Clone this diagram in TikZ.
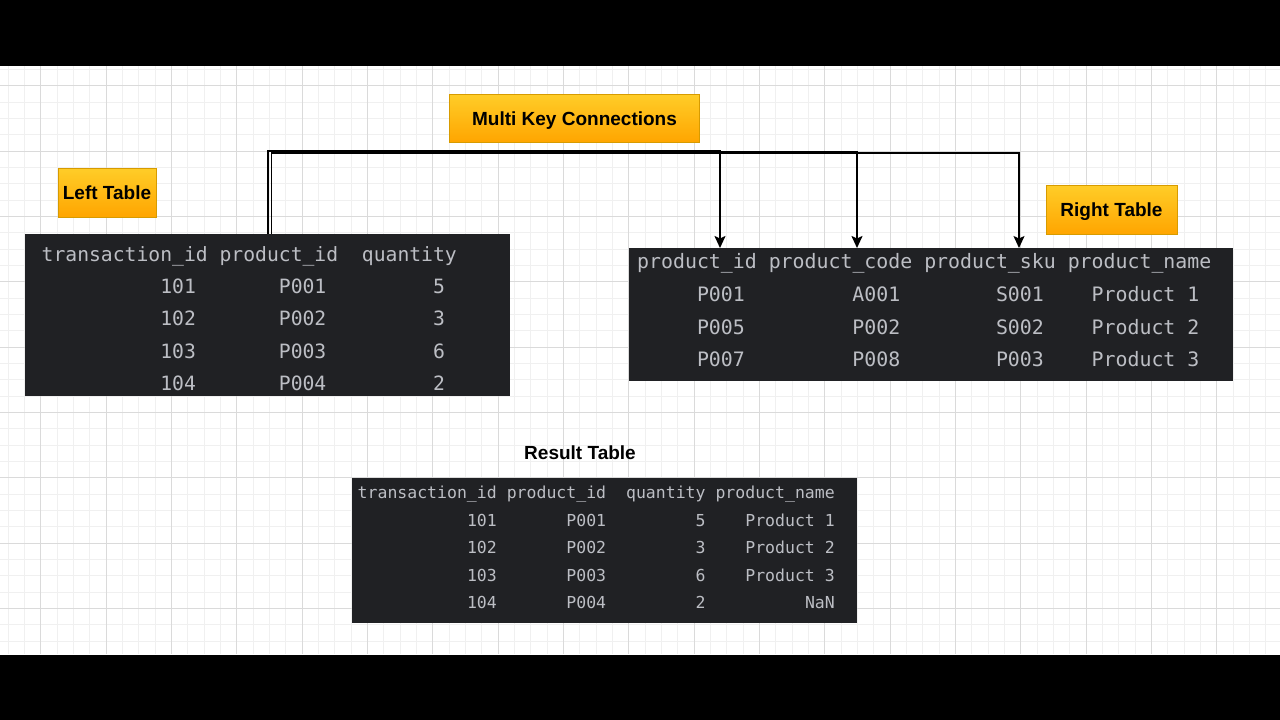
\documentclass[tikz,border=0pt]{standalone}
\usepackage{fontspec}
\setmainfont{Liberation Sans}
\newfontfamily\codefont{DejaVu Sans Mono}
\usetikzlibrary{arrows.meta}
\definecolor{gridminor}{HTML}{F0F0F0}
\definecolor{gridmajor}{HTML}{DADADA}
\definecolor{tabbg}{HTML}{202124}
\definecolor{tabfg}{HTML}{BCBEC4}
\definecolor{orangetop}{HTML}{FFCD28}
\definecolor{orangebot}{HTML}{FFA500}
\definecolor{orangeline}{HTML}{D79B00}
\begin{document}
\begin{tikzpicture}[x=1pt,y=-1pt,
  minorline/.style={draw=gridminor, line width=1pt},
  majorline/.style={draw=gridmajor, line width=1pt},
  tag/.style={draw=orangeline, line width=1pt, top color=orangetop, bottom color=orangebot,
    font=\bfseries\fontsize{19}{22}\selectfont, text height=13.6pt, text depth=0pt, inner sep=0pt},
  title/.style={font=\bfseries\fontsize{19}{22}\selectfont, text height=13.6pt, text depth=0pt, inner sep=0pt},
  tablebox/.style={fill=tabbg, draw=none, anchor=north west, inner sep=0pt},
  lcell/.style={anchor=base west, inner sep=0pt, text=tabfg, font=\codefont\fontsize{19.7}{22}\selectfont},
  rcell/.style={anchor=base west, inner sep=0pt, text=tabfg, font=\codefont\fontsize{19.87}{22}\selectfont},
  scell/.style={anchor=base west, inner sep=0pt, text=tabfg, font=\codefont\fontsize{16.5}{19}\selectfont},
  conn/.style={draw=black, line width=1.8pt, -{Stealth[length=12pt,width=11pt,inset=2.5pt]}}
]
\useasboundingbox (0,0) rectangle (1280,720);
\fill[white] (0,0) rectangle (1280,720);
% grid
\foreach \i in {0,...,78} \draw[minorline] ({8.04+\i*16.333},66) -- ({8.04+\i*16.333},654);
\foreach \i in {0,...,35} \draw[minorline] (0,{69.37+\i*16.333}) -- (1280,{69.37+\i*16.333});
\foreach \i in {0,...,18} \draw[majorline] ({40.7+\i*65.333},66) -- ({40.7+\i*65.333},654);
\foreach \i in {0,...,8} \draw[majorline] (0,{85.7+\i*65.333}) -- (1280,{85.7+\i*65.333});
% black bars
\fill[black] (0,0) rectangle (1280,65.5);
\fill[black] (0,654.5) rectangle (1280,720);

% labels
\node[tag, minimum width=250pt, minimum height=48.5pt] (multi) at (574.5,118.3) {Multi Key Connections};
\node[tag, minimum width=98pt, minimum height=49pt] (lefttag) at (107,192.5) {Left Table};
\node[tag, minimum width=131pt, minimum height=49pt] (righttag) at (1111.5,209.5) {Right Table};
\node[title] (restitle) at (580,453) {Result Table};

% tables
\node[tablebox, minimum width=484.5pt, minimum height=161.5pt] (LT) at (25,234) {};
\node[tablebox, minimum width=604pt, minimum height=133pt] (RT) at (629,248) {};
\node[tablebox, minimum width=505pt, minimum height=145pt] (RES) at (352,478) {};

% left table cells
\def\lx{41.5}\def\lw{11.86}
\foreach \c/\t [count=\i] in {0/transaction\_id,15/product\_id,27/quantity}
  \node[lcell] (L-h-\i) at ({\lx+\c*\lw},261) {\t};
\foreach \y/\a/\b/\c [count=\r] in {293.5/101/P001/5, 325.8/102/P002/3, 358.2/103/P003/6, 390.6/104/P004/2}{
  \node[lcell] (L-\r-1) at ({\lx+10*\lw},\y) {\a};
  \node[lcell] (L-\r-2) at ({\lx+20*\lw},\y) {\b};
  \node[lcell] (L-\r-3) at ({\lx+33*\lw},\y) {\c};
}

% right table cells
\def\rx{637}\def\rw{11.96}
\foreach \c/\t [count=\i] in {0/product\_id,11/product\_code,24/product\_sku,36/product\_name}
  \node[rcell] (R-h-\i) at ({\rx+\c*\rw},268.5) {\t};
\foreach \y/\a/\b/\c/\d [count=\r] in {301.5/P001/A001/S001/Product 1, 334/P005/P002/S002/Product 2, 366.5/P007/P008/P003/Product 3}{
  \node[rcell] (R-\r-1) at ({\rx+5*\rw},\y) {\a};
  \node[rcell] (R-\r-2) at ({\rx+18*\rw},\y) {\b};
  \node[rcell] (R-\r-3) at ({\rx+30*\rw},\y) {\c};
  \node[rcell] (R-\r-4) at ({\rx+38*\rw},\y) {\d};
}

% result table cells
\def\sx{357.5}\def\sw{9.94}
\foreach \c/\t [count=\i] in {0/transaction\_id,15/product\_id,27/quantity,36/product\_name}
  \node[scell] (S-h-\i) at ({\sx+\c*\sw},498.6) {\t};
\foreach \y/\a/\b/\c/\d/\dc [count=\r] in {526/101/P001/5/Product 1/39, 553.6/102/P002/3/Product 2/39, 581.2/103/P003/6/Product 3/39, 608.8/104/P004/2/NaN/45}{
  \node[scell] (S-\r-1) at ({\sx+11*\sw},\y) {\a};
  \node[scell] (S-\r-2) at ({\sx+21*\sw},\y) {\b};
  \node[scell] (S-\r-3) at ({\sx+34*\sw},\y) {\c};
  \node[scell] (S-\r-4) at ({\sx+\dc*\sw},\y) {\d};
}

% key targets on the right table
\coordinate (k1) at ([xshift=91pt]RT.north west);
\coordinate (k2) at ([xshift=228pt]RT.north west);
\coordinate (k3) at ([xshift=390pt]RT.north west);

% connectors
\draw[conn] ([xshift=0.5pt]LT.north) -- ++(0,-83) -| (k1);
\draw[conn] ([xshift=4pt]LT.north) -- ++(0,-82) -| (k2);
\draw[conn, line width=1.5pt] ([xshift=4pt]LT.north) -- ++(0,-81) -| (k3);
\end{tikzpicture}
\end{document}
